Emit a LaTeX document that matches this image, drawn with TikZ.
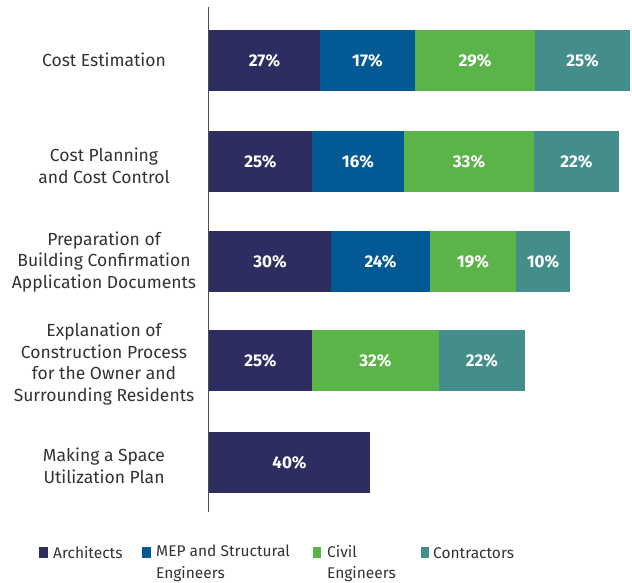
\documentclass[tikz,border=0pt]{standalone}
\usepackage{fontspec}
\setmainfont{Fira Sans}
\definecolor{arch}{HTML}{2E2D62}
\definecolor{mep}{HTML}{035994}
\definecolor{civil}{HTML}{5BB447}
\definecolor{contr}{HTML}{438E8B}
\definecolor{txt}{HTML}{333333}
\begin{document}
\begin{tikzpicture}[x=1pt,y=-1pt,
  seg/.style={fill=#1,draw=none},
  pct/.style={text=white,font=\fontsize{17}{20}\selectfont\bfseries},
  cat/.style={text=txt,align=center,font=\fontsize{17.5}{21.7}\selectfont},
  leg/.style={text=txt,align=left,anchor=base west,inner sep=0pt,font=\fontsize{15.5}{21.5}\selectfont},
  sq/.style={fill=#1,draw=none}]
\useasboundingbox (0,0) rectangle (632,583);
\fill[white] (0,0) rectangle (632,583);
% axis
\coordinate (axT) at (208.5,7);
\coordinate (axB) at (208.5,512);
\draw[line width=1.2pt,color=black!70] (axT) -- (axB);
% helper macro
\newcommand{\myseg}[6]{%
  \path[seg=#1] (#2,#4) rectangle (#3,#5);
  \node[pct] at ({(#2+#3)/2},{(#4+#5)/2}) {#6};}
% row 1
\myseg{arch}{209}{320}{30}{91}{27\%}
\myseg{mep}{320}{415}{30}{91}{17\%}
\myseg{civil}{415}{535}{30}{91}{29\%}
\myseg{contr}{535}{630}{30}{91}{25\%}
% row 2
\myseg{arch}{209}{312}{131}{192}{25\%}
\myseg{mep}{312}{404}{131}{192}{16\%}
\myseg{civil}{404}{534}{131}{192}{33\%}
\myseg{contr}{534}{619}{131}{192}{22\%}
% row 3
\myseg{arch}{209}{331}{231}{292}{30\%}
\myseg{mep}{331}{430}{231}{292}{24\%}
\myseg{civil}{430}{516}{231}{292}{19\%}
\myseg{contr}{516}{570}{231}{292}{10\%}
% row 4
\myseg{arch}{209}{312}{330}{391}{25\%}
\myseg{civil}{312}{439}{330}{391}{32\%}
\myseg{contr}{439}{525}{330}{391}{22\%}
% row 5
\myseg{arch}{209}{370}{432}{493}{40\%}
% categories
\node[cat] (c1) at (104,60) {Cost Estimation};
\node[cat] (c2) at (104,166) {Cost Planning\\and Cost Control};
\node[cat] (c3) at (104,262) {Preparation of\\Building Confirmation\\Application Documents};
\node[cat] (c4) at (104,364) {Explanation of\\Construction Process\\for the Owner and\\Surrounding Residents};
\node[cat] (c5) at (104,466) {Making a Space\\Utilization Plan};
% legend
\path[sq=arch] (39,547) rectangle (48,558);
\node[leg] (l1) at (53,558) {Architects};
\path[sq=mep] (142,547) rectangle (151,558);
\node[leg,anchor=north west] (l2) at (156,545) {MEP and Structural\\Engineers};
\path[sq=civil] (313,547) rectangle (321,558);
\node[leg,anchor=north west] (l3) at (327,545) {Civil\\Engineers};
\path[sq=contr] (421,547) rectangle (429,558);
\node[leg] (l4) at (433,558) {Contractors};
\end{tikzpicture}
\end{document}
